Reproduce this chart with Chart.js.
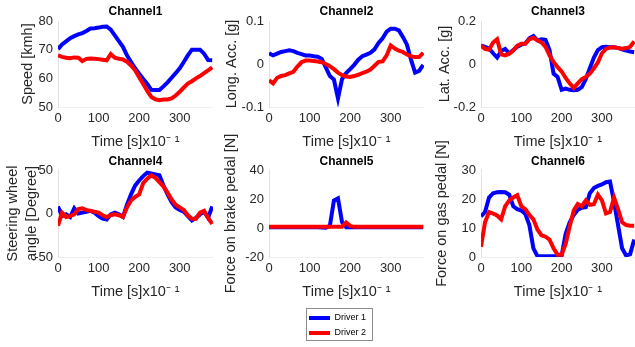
<!DOCTYPE html>
<html>
<head>
<meta charset="utf-8">
<title>Driver channels</title>
<script src="https://cdn.jsdelivr.net/npm/chart.js@4.4.1/dist/chart.umd.min.js"></script>
<style>
  html, body { margin: 0; padding: 0; background: #fff; overflow: hidden; }
  #page { position: relative; width: 635px; height: 347px; overflow: hidden; }
  canvas { position: absolute; }
</style>
</head>
<body>
<div id="page">
  <canvas id="ch1" width="213" height="152" style="left:0px;top:0px"></canvas>
  <canvas id="ch2" width="213" height="152" style="left:211px;top:0px"></canvas>
  <canvas id="ch3" width="212" height="152" style="left:423px;top:0px"></canvas>
  <canvas id="ch4" width="213" height="184" style="left:0px;top:118px"></canvas>
  <canvas id="ch5" width="213" height="184" style="left:211px;top:118px"></canvas>
  <canvas id="ch6" width="212" height="184" style="left:423px;top:118px"></canvas>
  <canvas id="legend" width="200" height="45" style="left:303px;top:303px"></canvas>
</div>
<script>
// time axis, in units of 0.1 s
const time = [0, 10, 20, 30, 40, 50, 60, 70, 80, 90, 100, 110, 120, 130, 140, 150, 160, 170, 180, 190,
  200, 210, 220, 230, 240, 250, 260, 270, 280, 290, 300, 310, 320, 330, 340, 350, 360, 370, 380];
const xTicks = [0, 100, 200, 300];
const driverLabels = ["Driver 1", "Driver 2"];
const channelTitles = ["Channel1", "Channel2", "Channel3", "Channel4", "Channel5", "Channel6"];
const xTitle = "Time [s]x10\u207B \u00B9";

// Channel1 - speed [kmh]
const ch1Ticks = [50, 60, 70, 80];
const ch1Driver1 = [70.2, 71.8, 72.9, 74, 74.7, 75.3, 75.8, 76.5, 77.4, 77.5, 77.7, 78, 78.1, 77, 75, 73, 71, 68, 65.7, 63.5,
  61.6, 59.8, 58, 56, 55.9, 55.9, 57.2, 58.6, 60.2, 61.8, 63.5, 65.7, 68, 70, 70, 70, 68.6, 66.4, 66.3];
const ch1Driver2 = [68, 67.5, 67.2, 67, 67.3, 67.2, 66, 66.8, 66.9, 66.8, 66.7, 66.5, 66.3, 68.5, 67.2, 66.8, 66.6, 65.8, 64.5, 62.8,
  60.4, 58, 55.6, 53.5, 52.7, 52.4, 52.6, 52.6, 53, 54, 55.3, 56.8, 58.2, 59, 60, 60.8, 61.8, 62.8, 63.8];

// Channel2 - longitudinal acceleration [g]
const ch2Ticks = [-0.1, 0, 0.1];
const ch2Driver1 = [0.025, 0.02, 0.024, 0.028, 0.03, 0.032, 0.03, 0.026, 0.023, 0.02, 0.02, 0.018, 0.017, 0.012, -0.008, -0.028, -0.036, -0.08, -0.035, -0.021,
  -0.012, -0.002, 0.01, 0.018, 0.022, 0.026, 0.034, 0.049, 0.06, 0.075, 0.082, 0.082, 0.078, 0.063, 0.045, 0.01, -0.02, -0.016, -0.002];
const ch2Driver2 = [-0.038, -0.045, -0.032, -0.028, -0.026, -0.022, -0.018, -0.006, 0.004, 0.008, 0.008, 0.007, 0.006, 0.004, 0, -0.005, -0.012, -0.02, -0.026, -0.029,
  -0.03, -0.028, -0.025, -0.021, -0.018, -0.013, -0.004, 0.005, 0.006, 0.02, 0.043, 0.036, 0.031, 0.028, 0.022, 0.018, 0.016, 0.016, 0.026];

// Channel3 - lateral acceleration [g]
const ch3Ticks = [-0.2, 0, 0.2];
const ch3Driver1 = [0.086, 0.08, 0.072, 0.05, 0.03, 0.06, 0.07, 0.05, 0.065, 0.08, 0.09, 0.095, 0.12, 0.13, 0.11, 0.115, 0.112, 0.065, -0.045, -0.06,
  -0.12, -0.114, -0.12, -0.122, -0.12, -0.108, -0.07, -0.02, 0.03, 0.065, 0.078, 0.08, 0.078, 0.078, 0.075, 0.068, 0.062, 0.058, 0.055];
const ch3Driver2 = [0.086, 0.07, 0.066, 0.1, 0.115, 0.045, 0.04, 0.048, 0.063, 0.085, 0.094, 0.094, 0.115, 0.122, 0.11, 0.1, 0.08, 0.04, 0.01, -0.015,
  -0.035, -0.065, -0.09, -0.112, -0.09, -0.07, -0.06, -0.045, -0.02, 0.008, 0.05, 0.07, 0.077, 0.078, 0.074, 0.071, 0.074, 0.08, 0.105];

// Channel4 - steering wheel angle [deg]
const ch4Ticks = [-50, 0, 50];
const ch4Driver1 = [8, -3, -1, -4, 6, 0, 1, 2, 3, 1, -3, -6, -7, -1, 1, -1, -4, 10, 22, 32,
  38, 43, 47, 46, 45, 44, 32, 22, 13, 7, 4, 2, -3, -8, -5, -1, 2, -5, 8];
const ch4Driver2 = [-14, 1, -4, -3, -1, 5, 6, 4, 3, 2, 1, -2, -4, -2, -1, -2, -4, 7, 15, 19,
  22, 35, 40, 44, 41, 36, 31, 24, 16, 10, 7, 4, -2, -6, -6, 1, 3, -5, -12];

// Channel5 - brake pedal force [N]
const ch5Ticks = [-20, 0, 20, 40];
const ch5Driver1 = [0.5, 0.5, 0.5, 0.5, 0.5, 0.5, 0.5, 0.5, 0.5, 0.5, 0.5, 0.5, 0.5, 0.3, 0.2, 1.5, 19, 20.5, 4, 0.5,
  0.5, 0.5, 0.5, 0.5, 0.5, 0.5, 0.5, 0.5, 0.5, 0.5, 0.5, 0.5, 0.5, 0.5, 0.5, 0.5, 0.5, 0.5, 0.5];
const ch5Driver2 = [0.8, 0.8, 0.8, 0.8, 0.8, 0.8, 0.8, 0.8, 0.8, 0.8, 0.8, 0.8, 0.8, 0.8, 0.8, 0.8, 0.8, 0.8, 0.8, 3.8,
  1.5, 0.8, 0.8, 0.8, 0.8, 0.8, 0.8, 0.8, 0.8, 0.8, 0.8, 0.8, 0.8, 0.8, 0.8, 0.8, 0.8, 0.8, 0.8];

// Channel6 - gas pedal force [N]
const ch6Ticks = [0, 10, 20, 30];
const ch6Driver1 = [14, 15.5, 20.5, 22, 22.3, 22.4, 22.3, 21.5, 17.5, 16.5, 16, 14.8, 11, 3, 0.3, 0.3, 0.3, 0.3, 0.3, 0.3,
  0.5, 8, 12, 14.5, 16.3, 17, 17.2, 22, 23.8, 24.5, 25, 25.8, 26, 19, 11, 3, 0.5, 1, 6];
const ch6Driver2 = [3.5, 12, 15.5, 15, 14.3, 13, 17.5, 19.5, 20.5, 21.3, 17.5, 16.5, 14.5, 13, 9.5, 7.5, 7, 6, 3, 0.8,
  0.8, 4.5, 10.5, 16, 18.3, 17.5, 19.5, 18, 18.2, 21.5, 19.5, 15, 15.5, 20.5, 16.5, 12, 11, 10.8, 10.8];

const FONT = "'Liberation Sans', Arial, Helvetica, sans-serif";
const BLUE = "#0000ff";
const RED = "#ff0000";
const INK = "#262626";
const X_MAX = 382;

function points(values) {
  return values.map((v, i) => ({ x: time[i], y: v }));
}

function panel(id, p) {
  new Chart(document.getElementById(id), {
    type: "line",
    data: {
      datasets: [
        { label: driverLabels[0], data: points(p.d1), borderColor: BLUE, backgroundColor: BLUE,
          borderWidth: 4, pointRadius: 0, order: 2 },
        { label: driverLabels[1], data: points(p.d2), borderColor: RED, backgroundColor: RED,
          borderWidth: 4, pointRadius: 0, order: 1 }
      ]
    },
    options: {
      responsive: false,
      animation: false,
      events: [],
      layout: { padding: 0 },
      plugins: {
        legend: { display: false },
        tooltip: { enabled: false },
        title: {
          display: true, fullSize: false, text: p.title, color: "#000",
          font: { family: FONT, size: 12, weight: "bold" },
          padding: { top: p.titleTop, bottom: p.titleBottom }
        }
      },
      scales: {
        x: {
          type: "linear", min: 0, max: X_MAX,
          grid: { display: false, drawTicks: false },
          border: { display: true, color: "#efefef" },
          ticks: { color: INK, font: { family: FONT, size: 13 }, padding: 4, maxRotation: 0, autoSkip: false },
          afterBuildTicks: s => { s.ticks = xTicks.map(v => ({ value: v })); },
          afterFit: s => { s.height = 45; },
          title: { display: true, text: xTitle, color: INK, font: { family: FONT, size: 14.5 }, padding: { top: 0, bottom: 1.3 } }
        },
        y: {
          type: "linear", min: p.ticks[0], max: p.ticks[p.ticks.length - 1],
          grid: { display: false, drawTicks: false },
          border: { display: true, color: "#e2e2e2" },
          ticks: { color: INK, font: { family: FONT, size: 13 }, padding: 5 },
          afterBuildTicks: s => { s.ticks = p.ticks.map(v => ({ value: v })); },
          afterFit: s => { s.width = 58; },
          title: { display: true, text: p.yTitle, color: INK,
            font: { family: FONT, size: 14.5, lineHeight: p.yLine || 1.2 }, padding: { top: p.yPad, bottom: 0 } }
        }
      }
    }
  });
}

const rowTop = { titleTop: 4.8, titleBottom: 1.8 };
const rowBottom = { titleTop: 36.8, titleBottom: 0.8 };

panel("ch1", { ...rowTop, title: channelTitles[0], yTitle: "Speed [kmh]", yPad: 19, ticks: ch1Ticks, d1: ch1Driver1, d2: ch1Driver2 });
panel("ch2", { ...rowTop, title: channelTitles[1], yTitle: "Long. Acc. [g]", yPad: 12, ticks: ch2Ticks, d1: ch2Driver1, d2: ch2Driver2 });
panel("ch3", { ...rowTop, title: channelTitles[2], yTitle: "Lat. Acc. [g]", yPad: 13, ticks: ch3Ticks, d1: ch3Driver1, d2: ch3Driver2 });
panel("ch4", { ...rowBottom, title: channelTitles[3], yTitle: ["Steering wheel", "angle [Degree]"], yPad: 3.5, yLine: 1.31, ticks: ch4Ticks, d1: ch4Driver1, d2: ch4Driver2 });
panel("ch5", { ...rowBottom, title: channelTitles[4], yTitle: "Force on brake pedal [N]", yPad: 11, ticks: ch5Ticks, d1: ch5Driver1, d2: ch5Driver2 });
panel("ch6", { ...rowBottom, title: channelTitles[5], yTitle: "Force on gas pedal [N]", yPad: 10, ticks: ch6Ticks, d1: ch6Driver1, d2: ch6Driver2 });

// box drawn round the shared legend, like the MATLAB legend frame
const legendFrame = {
  id: "legendFrame",
  afterDraw(chart) {
    const boxes = chart.legend && chart.legend.legendHitBoxes;
    if (!boxes || !boxes.length) return;
    const ctx = chart.ctx;
    const left = Math.min(...boxes.map(b => b.left)) - 3;
    const right = Math.max(...boxes.map(b => b.left + b.width)) + 6;
    const top = boxes[0].top + boxes[0].height / 2 - 10;
    const last = boxes[boxes.length - 1];
    const bottom = last.top + last.height / 2 + 7;
    ctx.save();
    ctx.strokeStyle = "#8c8c8c";
    ctx.lineWidth = 1;
    ctx.strokeRect(Math.round(left) + 0.5, Math.round(top) + 0.5, Math.round(right - left), Math.round(bottom - top));
    ctx.restore();
  }
};

new Chart(document.getElementById("legend"), {
  type: "line",
  data: {
    datasets: [
      { label: driverLabels[0], data: [], borderColor: BLUE, backgroundColor: BLUE, borderWidth: 4 },
      { label: driverLabels[1], data: [], borderColor: RED, backgroundColor: RED, borderWidth: 4 }
    ]
  },
  options: {
    responsive: false,
    animation: false,
    events: [],
    layout: { padding: 0 },
    scales: { x: { display: false }, y: { display: false } },
    plugins: {
      tooltip: { enabled: false },
      legend: {
        position: "left",
        align: "center",
        labels: {
          color: "#000",
          font: { family: FONT, size: 9 },
          boxWidth: 21,
          boxHeight: 4,
          padding: 6,
          generateLabels: chart => Chart.defaults.plugins.legend.labels.generateLabels(chart)
            .map(item => ({ ...item, lineWidth: 0 }))
        }
      }
    }
  },
  plugins: [legendFrame]
});
</script>
</body>
</html>
